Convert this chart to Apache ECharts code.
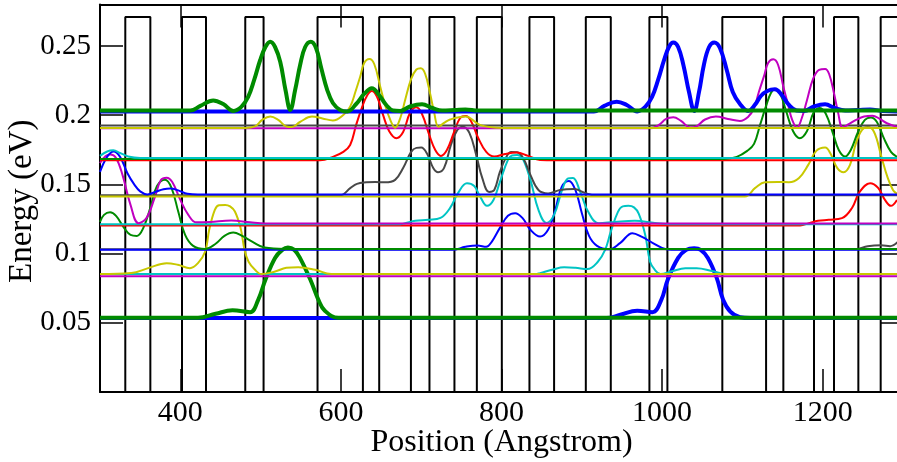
<!DOCTYPE html>
<html><head><meta charset="utf-8">
<script src="https://cdn.jsdelivr.net/npm/echarts@6/dist/echarts.min.js"></script>
<style>html,body{margin:0;padding:0;background:#fff}#c{width:897px;height:462px}</style>
</head><body><div id="c"></div>
<script>
// ---- axis ticks ----
const xTicks = [400, 600, 800, 1000, 1200];
const yTicks = [0.05, 0.1, 0.15, 0.2, 0.25];

// ---- potential profile (Angstrom, eV) ----
const barrierLeft  = [331.5, 402.1, 480.9, 570.9, 647.7, 710.3, 769.3, 834.8, 905.0, 984.2, 1075.0, 1151.0, 1214.1, 1272.2];
const barrierRight = [362.7, 432.0, 503.7, 627.4, 687.2, 741.4, 800.4, 865.5, 936.1, 1006.6, 1129.5, 1189.2, 1244.4, 1300];
const barrierTop = 0.271;

// ---- states: [position, energy + density] ----
const A_blue = [[300,0.0534],[931,0.0534],[948,0.0558],[969,0.0587],[988,0.0577],[999,0.0666],[1007,0.0811],[1020,0.0969],[1030,0.1027],[1040,0.1039],[1048,0.1027],[1057,0.0969],[1068,0.0825],[1076,0.0666],[1085,0.0580],[1097,0.0540],[1110,0.0534],[1300,0.0534]];
const A_green = [[300,0.0536],[422,0.0536],[444,0.0565],[465,0.0590],[487,0.0577],[497,0.0666],[506,0.0811],[518,0.0969],[527,0.1027],[534,0.1045],[542,0.1027],[549,0.0969],[562,0.0811],[572,0.0666],[580,0.0587],[597,0.0536],[1300,0.0536]];

const B_magenta = [[300,0.0837],[1300,0.0837]];
const B_cyan = [[300,0.0852],[842,0.0852],[848,0.0859],[863,0.0883],[878,0.0901],[892,0.0897],[907,0.0888],[920,0.0941],[929,0.1027],[936,0.1157],[945,0.1302],[951,0.1341],[958,0.1345],[965,0.1334],[971,0.1287],[979,0.1135],[985,0.0941],[991,0.0883],[998,0.0852],[1012,0.0872],[1029,0.0894],[1043,0.0895],[1062,0.0875],[1081,0.0852],[1300,0.0852]];
const B_yellow = [[300,0.0852],[339,0.0859],[360,0.0895],[383,0.0931],[397,0.0919],[412,0.0895],[422,0.0931],[431,0.1015],[436,0.1172],[443,0.1316],[448,0.1349],[456,0.1352],[462,0.1341],[468,0.1304],[475,0.1186],[480,0.1027],[485,0.0941],[493,0.0883],[501,0.0852],[518,0.0871],[532,0.0897],[547,0.0902],[568,0.0883],[588,0.0852],[1300,0.0852]];

const C_grey = [[300,0.1031],[1241,0.1031],[1256,0.1053],[1273,0.1060],[1284,0.1053],[1293,0.1082]];
const C_blue = [[300,0.1027],[739,0.1027],[755,0.1049],[770,0.1059],[781,0.1049],[788,0.1087],[798,0.1186],[808,0.1273],[817,0.1292],[826,0.1258],[836,0.1172],[848,0.1123],[858,0.1172],[867,0.1316],[875,0.1482],[884,0.1525],[892,0.1460],[900,0.1294],[909,0.1128],[919,0.1056],[934,0.1031],[948,0.1078],[963,0.1148],[975,0.1121],[988,0.1078],[1004,0.1034],[1022,0.1027],[1300,0.1027]];
const C_green = [[300,0.1229],[305,0.1280],[312.5,0.1299],[320,0.1273],[330,0.1186],[338,0.1135],[346,0.1128],[354,0.1186],[363,0.1338],[371,0.1489],[381,0.1533],[389,0.1475],[397.5,0.1302],[406,0.1135],[416,0.1056],[431,0.1034],[444,0.1071],[455,0.1128],[466,0.1152],[477,0.1128],[490,0.1085],[505,0.1044],[530,0.1034],[1300,0.1034]];

const D_red = [[300,0.1204],[1172,0.1204],[1183,0.1220],[1194,0.1237],[1207.5,0.1244],[1224,0.1256],[1236.5,0.1330],[1246,0.1446],[1259,0.1509],[1269,0.1475],[1277.5,0.1388],[1285,0.1345],[1292.5,0.1388]];
const D_cyan = [[300,0.1213],[674,0.1213],[680,0.1220],[692.5,0.1237],[709,0.1244],[724,0.1258],[736,0.1330],[746,0.1439],[757,0.1509],[766,0.1489],[773,0.1417],[782,0.1345],[790,0.1388],[798,0.1518],[808,0.1677],[813,0.1709],[819.5,0.1713],[826,0.1691],[836,0.1533],[846,0.1316],[856,0.1222],[865.5,0.1280],[875.5,0.1460],[883,0.1543],[889,0.1547],[898,0.1446],[908,0.1302],[921,0.1220],[941,0.1229],[966,0.1237],[991,0.1222],[1010,0.1213],[1300,0.1213]];
const D_magenta = [[300,0.1655],[307,0.1706],[313,0.1717],[320,0.1691],[328,0.1569],[338,0.1352],[348,0.1220],[358,0.1258],[368,0.1403],[376,0.1533],[383,0.1549],[390,0.1518],[400,0.1388],[410,0.1280],[420,0.1226],[437,0.1229],[463.5,0.1240],[487,0.1226],[506,0.1218],[1300,0.1218]];

const E_grey = [[300,0.1421],[599,0.1421],[612,0.1475],[620,0.1504],[631.5,0.1515],[643,0.1518],[655,0.1515],[667.5,0.1533],[677.5,0.1619],[687.5,0.1735],[694,0.1764],[700,0.1766],[707.5,0.1720],[715,0.1619],[721,0.1588],[728.5,0.1619],[737,0.1785],[745,0.1894],[752,0.1917],[760,0.1872],[768.5,0.1713],[776,0.1547],[784.5,0.1446],[791,0.1460],[798,0.1590],[806,0.1699],[812,0.1735],[819.5,0.1733],[827,0.1691],[836,0.1569],[846,0.1460],[858,0.1435],[873,0.1460],[890.5,0.1466],[904,0.1439],[916.5,0.1421],[1300,0.1421]];
const E_yellow = [[300,0.1413],[1103,0.1413],[1116,0.1475],[1128,0.1516],[1144,0.1518],[1158,0.1516],[1170.5,0.1547],[1182,0.1641],[1192,0.1742],[1203,0.1766],[1210,0.1720],[1218,0.1619],[1226,0.1588],[1234,0.1641],[1241.5,0.1800],[1249,0.1894],[1256,0.1915],[1264,0.1879],[1272.5,0.1713],[1281,0.1547],[1287.5,0.1460],[1292.5,0.1432]];
const E_blue = [[300,0.1590],[309,0.1701],[317,0.1738],[325,0.1699],[334,0.1583],[343,0.1497],[350,0.1450],[359,0.1428],[369,0.1446],[379,0.1465],[387.5,0.1471],[397.5,0.1457],[409,0.1432],[422,0.1428],[1300,0.1428]];

const F_red = [[300,0.1675],[574,0.1675],[590,0.1699],[603,0.1735],[611.5,0.1785],[619,0.1930],[626.5,0.2060],[633,0.2146],[638.5,0.2175],[645,0.2132],[652.5,0.2002],[660,0.1886],[669,0.1834],[677.5,0.1879],[686,0.2016],[694,0.2057],[701,0.2009],[710,0.1858],[717.5,0.1749],[724.5,0.1706],[732,0.1749],[741,0.1879],[748.5,0.1980],[755.5,0.1995],[762,0.1959],[771,0.1836],[781,0.1735],[791,0.1701],[804.5,0.1720],[819,0.1730],[833,0.1706],[848,0.1677],[867,0.1675],[1300,0.1675]];
const F_green = [[300,0.1684],[1077,0.1684],[1093,0.1699],[1106,0.1742],[1114.5,0.1793],[1122,0.1930],[1129.5,0.2067],[1135.5,0.2161],[1140.5,0.2187],[1147,0.2154],[1154,0.2038],[1163,0.1886],[1171.5,0.1834],[1180.5,0.1886],[1189,0.2024],[1196.5,0.2053],[1204,0.2009],[1213,0.1865],[1220,0.1749],[1228,0.1701],[1235,0.1749],[1244,0.1879],[1252.5,0.1966],[1260,0.1984],[1267.5,0.1951],[1276,0.1836],[1285,0.1735],[1292.5,0.1699]];
const F_cyan = [[300,0.1706],[309,0.1738],[316.5,0.1746],[325,0.1727],[335,0.1702],[350,0.1691],[1300,0.1691]];

const G_grey = [[300,0.1926],[1300,0.1926]];
const G_magenta = [[300,0.1905],[985,0.1905],[996,0.1930],[1005,0.1973],[1014,0.1985],[1023.5,0.1959],[1035,0.1912],[1043.5,0.1922],[1053.5,0.1969],[1067,0.1990],[1082,0.1973],[1097,0.1959],[1107,0.1987],[1114.5,0.2052],[1120.5,0.2168],[1127,0.2284],[1132,0.2377],[1138.5,0.2404],[1144.5,0.2363],[1151,0.2206],[1157,0.2074],[1162,0.1966],[1168,0.1910],[1174,0.1980],[1180.5,0.2110],[1188,0.2262],[1195.5,0.2327],[1203,0.2334],[1208,0.2298],[1214,0.2161],[1219,0.2024],[1225,0.1912],[1233,0.1937],[1241.5,0.1966],[1251.5,0.1991],[1262,0.1997],[1271,0.1973],[1280,0.1942],[1292.5,0.1917]];
const G_yellow = [[300,0.1908],[481,0.1908],[493,0.1919],[502,0.1966],[512,0.1990],[522,0.1966],[532,0.1919],[539,0.1915],[549,0.1951],[564,0.1990],[577,0.1977],[590,0.1962],[603,0.2002],[611.5,0.2062],[618,0.2168],[624,0.2278],[629,0.2377],[635.5,0.2406],[641.5,0.2370],[649,0.2206],[655,0.2074],[661.5,0.1966],[667.5,0.1910],[674,0.1980],[680,0.2110],[687.5,0.2262],[694,0.2330],[699.5,0.2339],[705,0.2298],[711,0.2159],[716,0.2024],[721.5,0.1917],[728.5,0.1944],[736,0.1969],[755,0.1990],[773,0.1930],[794.5,0.1910],[811,0.1908],[1300,0.1908]];

const H_blue = [[300,0.2027],[915,0.2027],[928,0.2067],[943.5,0.2098],[956,0.2074],[969,0.2027],[979,0.2060],[987.5,0.2132],[995,0.2255],[1002.5,0.2399],[1008.5,0.2493],[1014,0.2525],[1020,0.2493],[1026.5,0.2363],[1033.5,0.2168],[1040,0.2031],[1046,0.2168],[1052,0.2363],[1058.5,0.2493],[1065,0.2525],[1072,0.2486],[1080.5,0.2327],[1088,0.2168],[1097,0.2081],[1107,0.2031],[1116,0.2078],[1123,0.2139],[1131,0.2175],[1140.5,0.2187],[1149,0.2146],[1158,0.2074],[1167.5,0.2034],[1177,0.2031],[1189,0.2063],[1203,0.2079],[1215,0.2052],[1228,0.2034],[1244,0.2038],[1259,0.2042],[1274,0.2031],[1300,0.2027]];
const H_green = [[300,0.2034],[412.5,0.2034],[425,0.2067],[441,0.2107],[453.5,0.2081],[466,0.2031],[476,0.2060],[484.5,0.2132],[492,0.2255],[499.5,0.2399],[506,0.2493],[512,0.2531],[518,0.2493],[524.5,0.2385],[531,0.2182],[537,0.2038],[543,0.2182],[549.5,0.2370],[555.5,0.2493],[562.5,0.2531],[569,0.2486],[575.5,0.2341],[583,0.2182],[590,0.2088],[599,0.2038],[608,0.2027],[619,0.2081],[629,0.2154],[638.5,0.2195],[647.5,0.2146],[656.5,0.2074],[665,0.2034],[674,0.2031],[686,0.2063],[701,0.2079],[714,0.2052],[726,0.2034],[742,0.2038],[755,0.2042],[771,0.2034],[1300,0.2034]];

// ---- styling ----
const FONT = '"Liberation Serif", "DejaVu Serif", serif';
const COL = {green:'#008b00', blue:'#0000ff', yellow:'#c8c800', cyan:'#00c4c4', magenta:'#c000c0', red:'#ff0000', grey:'#484848'};

const potential = [[300, 0]];
for (let i = 0; i < barrierLeft.length; i++) {
  potential.push([barrierLeft[i], 0], [barrierLeft[i], barrierTop], [barrierRight[i], barrierTop], [barrierRight[i], 0]);
}
potential.push([1300, 0]);

const series = [{type:'line', data:potential, symbol:'none', smooth:false, lineStyle:{color:'#000', width:2}, silent:true, z:2}];
function curve(data, color, width) {
  series.push({type:'line', data, symbol:'none', showSymbol:false, smooth:0.4, lineStyle:{color, width}, silent:true, z:3});
}
curve(A_blue, COL.blue, 4); curve(A_green, COL.green, 4);
curve(B_magenta, COL.magenta, 2); curve(B_cyan, COL.cyan, 2); curve(B_yellow, COL.yellow, 2);
curve(C_grey, COL.grey, 2); curve(C_blue, COL.blue, 2); curve(C_green, COL.green, 2);
curve(D_red, COL.red, 2); curve(D_cyan, COL.cyan, 2); curve(D_magenta, COL.magenta, 2);
curve(E_grey, COL.grey, 2); curve(E_yellow, COL.yellow, 2); curve(E_blue, COL.blue, 2);
curve(F_red, COL.red, 2); curve(F_green, COL.green, 2); curve(F_cyan, COL.cyan, 2);
curve(G_grey, COL.grey, 2); curve(G_magenta, COL.magenta, 2); curve(G_yellow, COL.yellow, 2);
curve(H_blue, COL.blue, 4); curve(H_green, COL.green, 4);

const axLine = {show:true, onZero:false, lineStyle:{color:'#000', width:2}};
function xAx(pos, withLabels) {
  return {type:'value', position:pos, min:300, max:1300,
    axisLine:axLine,
    axisTick:{show:true, inside:true, length:23, customValues:xTicks, lineStyle:{color:'#000', width:1.5}},
    axisLabel:{show:withLabels, customValues:xTicks, formatter:v => String(v), fontFamily:FONT, fontSize:30, color:'#000', margin:6},
    splitLine:{show:false}, minorTick:{show:false}};
}
function yAx(pos, withLabels) {
  return {type:'value', position:pos, min:0, max:0.28,
    axisLine:axLine,
    axisTick:{show:true, inside:true, length:23, customValues:yTicks, lineStyle:{color:'#000', width:1.5}},
    axisLabel:{show:withLabels, customValues:yTicks, formatter:v => String(v), fontFamily:FONT, fontSize:29, color:'#000', margin:9},
    splitLine:{show:false}, minorTick:{show:false}};
}
const xb = xAx('bottom', true);
Object.assign(xb, {name:'Position (Angstrom)', nameLocation:'middle', nameGap:35, nameMoveOverlap:false,
  nameTextStyle:{fontFamily:FONT, fontSize:32, color:'#000'}});
const yl = yAx('left', true);
Object.assign(yl, {name:'Energy (eV)', nameLocation:'middle', nameGap:61, nameMoveOverlap:false,
  nameTextStyle:{fontFamily:FONT, fontSize:33, color:'#000', padding:[0, 6, 0, 0]}});

const chart = echarts.init(document.getElementById('c'), null, {renderer:'canvas'});
chart.setOption({
  animation:false,
  backgroundColor:'#fff',
  grid:{left:100, right:-6, top:4.5, bottom:70, containLabel:false, outerBoundsMode:'none'},
  xAxis:[xb, xAx('top', false)],
  yAxis:[yl, yAx('right', false)],
  series: series.map(s => Object.assign(s, {xAxisIndex:0, yAxisIndex:0}))
});
</script></body></html>
